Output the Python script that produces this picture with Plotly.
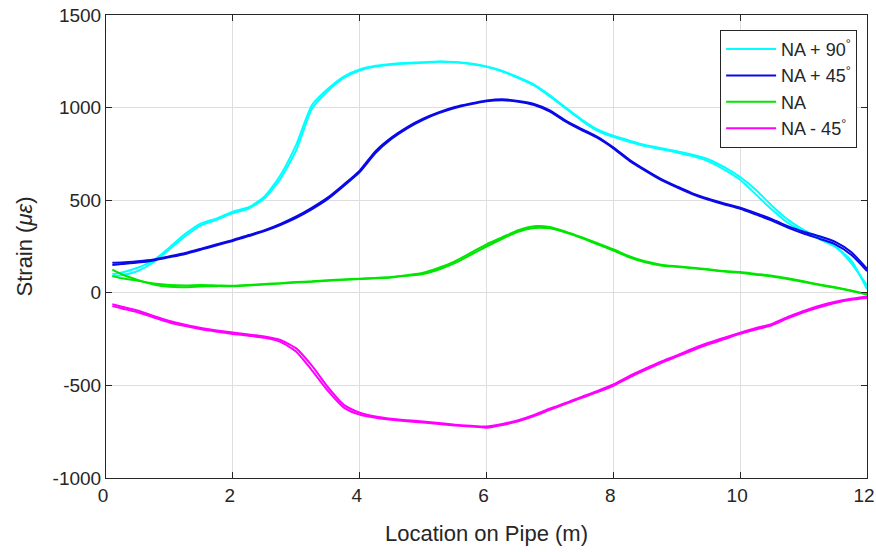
import plotly.graph_objects as go

# Location on pipe (m)
location = [0.1, 0.25, 0.5, 0.75, 1.0, 1.25, 1.5, 1.75, 2.0, 2.25, 2.5, 2.75, 3.0,
            3.25, 3.5, 3.75, 4.0, 4.25, 4.5, 4.75, 5.0, 5.25, 5.5, 5.75, 6.0,
            6.25, 6.5, 6.75, 7.0, 7.25, 7.5, 7.75, 8.0, 8.25, 8.5, 8.75, 9.0,
            9.25, 9.5, 9.75, 10.0, 10.25, 10.5, 10.75, 11.0, 11.25, 11.5, 11.75, 12.0]

# NA + 90 deg (two runs)
na90_run1 = [90, 95, 118, 165, 235, 305, 365, 395, 430, 455, 510, 615, 770,
             995, 1090, 1160, 1200, 1222, 1232, 1238, 1242, 1247, 1245, 1236, 1220,
             1195, 1160, 1120, 1060, 995, 930, 875, 842, 815, 792, 775, 758,
             738, 710, 665, 610, 530, 450, 378, 330, 290, 248, 175, 20]
na90_run2 = [100, 110, 135, 175, 245, 318, 375, 402, 438, 462, 520, 635, 800,
             1015, 1102, 1168, 1206, 1226, 1236, 1241, 1245, 1249, 1246, 1238, 1222,
             1198, 1164, 1124, 1066, 1000, 936, 882, 848, 822, 798, 781, 765,
             745, 720, 678, 625, 555, 470, 395, 340, 298, 252, 160, 40]

# NA + 45 deg
na45_run1 = [162, 163, 170, 180, 197, 215, 238, 262, 285, 312, 338, 372, 412,
             460, 515, 585, 660, 765, 838, 895, 940, 975, 1003, 1022, 1038,
             1045, 1036, 1020, 985, 930, 885, 842, 785, 720, 665, 615, 575,
             537, 508, 483, 460, 430, 398, 360, 330, 305, 275, 220, 130]
na45_run2 = [150, 155, 163, 175, 192, 210, 233, 257, 280, 306, 333, 366, 405,
             452, 507, 577, 652, 755, 830, 888, 934, 970, 998, 1018, 1034,
             1040, 1032, 1014, 978, 924, 878, 836, 780, 714, 660, 610, 570,
             532, 502, 477, 453, 422, 390, 352, 320, 292, 262, 205, 118]

# NA
na_run1 = [90, 78, 65, 50, 42, 40, 42, 40, 38, 42, 48, 52, 58,
           62, 68, 72, 76, 80, 85, 95, 108, 135, 170, 215, 262,
           300, 338, 360, 355, 330, 300, 268, 235, 198, 170, 152, 143,
           135, 127, 118, 112, 102, 92, 78, 62, 45, 30, 12, -10]
na_run2 = [125, 100, 70, 45, 32, 30, 34, 36, 36, 40, 45, 50, 55,
           60, 65, 70, 74, 78, 83, 92, 102, 126, 160, 205, 250,
           292, 330, 350, 348, 325, 296, 262, 228, 192, 165, 148, 140,
           132, 124, 115, 108, 98, 88, 74, 58, 42, 27, 10, -8]

# NA - 45 deg
nam45_run1 = [-62, -75, -96, -125, -152, -172, -190, -203, -214, -225, -236, -255, -300,
              -395, -510, -605, -648, -668, -680, -688, -695, -703, -712, -718, -722,
              -708, -688, -660, -625, -595, -562, -530, -495, -450, -410, -372, -338,
              -302, -270, -242, -215, -190, -168, -130, -98, -70, -48, -32, -20]
nam45_run2 = [-72, -85, -105, -133, -160, -180, -197, -210, -222, -232, -243, -265, -318,
              -420, -530, -620, -658, -675, -686, -694, -700, -708, -716, -722, -728,
              -714, -694, -666, -632, -600, -567, -536, -502, -458, -418, -380, -345,
              -310, -278, -250, -222, -198, -175, -138, -105, -78, -55, -38, -28]

x_ticks = [0, 2, 4, 6, 8, 10, 12]
y_ticks = [-1000, -500, 0, 500, 1000, 1500]
y_tick_labels = ["-1000", "-500", "0", "500", "1000", "1500"]

series = [
    ("NA + 90<sup>°</sup>", "#00FFFF", [na90_run1, na90_run2]),
    ("NA + 45<sup>°</sup>", "#0a0ae6", [na45_run1, na45_run2]),
    ("NA", "#00E600", [na_run1, na_run2]),
    ("NA - 45<sup>°</sup>", "#FF00FF", [nam45_run1, nam45_run2]),
]

FONT = "Liberation Sans, Arial, sans-serif"
TXT = "#262626"

fig = go.Figure()
for name, color, runs in series:
    for i, run in enumerate(runs):
        fig.add_trace(go.Scatter(
            x=location, y=run, mode="lines", name=name,
            showlegend=(i == 0),
            line=dict(color=color, width=2, shape="spline", smoothing=0.6),
        ))

axis_common = dict(
    showline=True, linecolor=TXT, linewidth=1, mirror="ticks",
    ticks="inside", ticklen=6, tickcolor=TXT, automargin=False,
    showgrid=True, gridcolor="#dedede", gridwidth=1, zeroline=False,
    tickfont=dict(family=FONT, size=19, color=TXT),
)

fig.update_xaxes(range=[0, 12], tickvals=x_ticks, ticklabeloverflow="allow",
                 ticklabelshift=-3,
                 title=dict(text="Location on Pipe (m)", standoff=20,
                            font=dict(family=FONT, size=22, color=TXT)),
                 **axis_common)
fig.update_yaxes(range=[-1000, 1500], tickvals=y_ticks, ticktext=y_tick_labels,
                 title=dict(text="Strain (<i>με</i>)", standoff=13,
                            font=dict(family=FONT, size=22, color=TXT)),
                 **axis_common)

fig.update_layout(
    width=876, height=552,
    margin=dict(l=106, r=9, t=15, b=74),
    paper_bgcolor="white", plot_bgcolor="white",
    legend=dict(x=0.987, y=0.968, xanchor="right", yanchor="top",
                bgcolor="white", bordercolor=TXT, borderwidth=1,
                font=dict(family=FONT, size=18, color=TXT),
                tracegroupgap=0, itemwidth=50),
    showlegend=True,
)

fig.write_html("out.html", config={"displayModeBar": False},
               post_script="document.body.style.margin='0';")
